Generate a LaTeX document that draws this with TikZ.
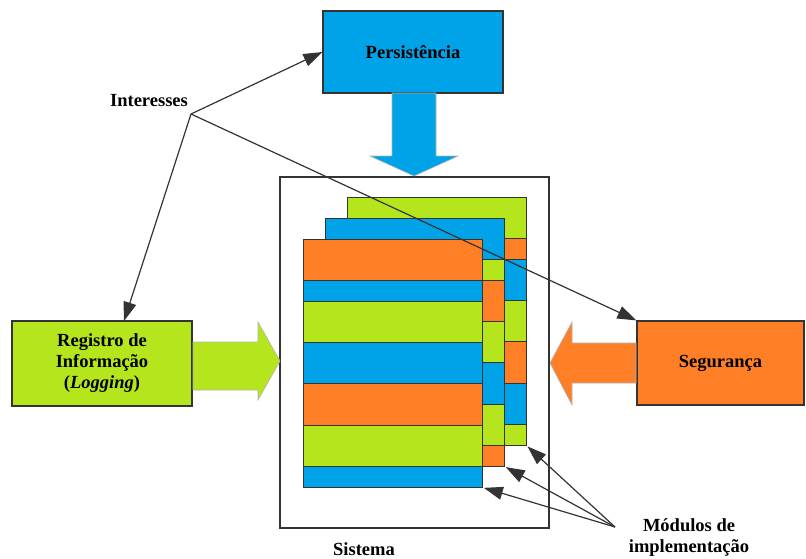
\documentclass[tikz,border=0pt]{standalone}
\usepackage{fontspec}
\setmainfont{Liberation Serif}
\usetikzlibrary{arrows.meta}
\definecolor{cblue}{HTML}{00A2E8}
\definecolor{cgreen}{HTML}{B5E61D}
\definecolor{corange}{HTML}{FF7F27}
\definecolor{cline}{HTML}{333333}
\newcommand\mysheet[3]{%
  \foreach \a/\b/\c in {#3}
    \filldraw[stripe,fill=\c] (#1,{#2+\a*20.667}) rectangle ({#1+179},{#2+\b*20.667});}
\begin{document}
\begin{tikzpicture}[x=1pt,y=-1pt,
  lbl/.style={font=\fontsize{18.5}{21}\selectfont\bfseries, text=black, align=center},
  box/.style={draw=cline, line width=1.2pt, inner sep=0pt, lbl},
  stripe/.style={draw=cline, line width=1pt},
  bigarrow/.style={draw=gray!60, line width=0.6pt},
  conn/.style={draw=cline, line width=1.2pt, -{Triangle[length=19pt,width=13pt]}, color=cline},
  sheet/.style={inner sep=0pt, minimum width=179pt, minimum height=248pt, anchor=north west}]
\useasboundingbox (0,0) rectangle (806,558);

% boxes
\node[box, fill=cblue, minimum width=180pt, minimum height=82pt] (pers) at (413,52) {Persistência};
\node[box, fill=cgreen, minimum width=180pt, minimum height=85pt] (reg) at (102,363.5)
  {Registro de\\Informação\\(\textit{Logging})};
\node[box, fill=corange, minimum width=167pt, minimum height=84pt] (seg) at (720.5,363) {Segurança};
\node[draw=cline, line width=1.5pt, inner sep=0pt, minimum width=269pt, minimum height=351pt] (sys) at (414.5,352.5) {};

% big arrows
\filldraw[bigarrow, fill=cblue] (392,93) -- (392,156) -- (370,156) -- (414,176) -- (458,156) -- (436,156) -- (436,93) -- cycle;
\filldraw[bigarrow, fill=cgreen] (193,342) -- (258,342) -- (258,322) -- (280,361) -- (258,400) -- (258,390) -- (193,390) -- cycle;
\filldraw[bigarrow, fill=corange] (636,343) -- (572,343) -- (572,322) -- (550,363) -- (572,405) -- (572,383) -- (636,383) -- cycle;

% sheets
\node[sheet] (back) at (347,197) {};
\node[sheet] (mid) at (325,218) {};
\node[sheet] (front) at (303,239) {};
\mysheet{347}{197}{0/2/cgreen,2/3/corange,3/5/cblue,5/7/cgreen,7/9/corange,9/11/cblue,11/12/cgreen}
\mysheet{325}{218}{0/2/cblue,2/3/cgreen,3/5/corange,5/7/cgreen,7/9/cblue,9/11/cgreen,11/12/corange}
\mysheet{303}{239}{0/2/corange,2/3/cblue,3/5/cgreen,5/7/cblue,7/9/corange,9/11/cgreen,11/12/cblue}

% labels
\node[lbl] (int) at (149,101) {Interesses};
\node[lbl] (sysl) at (364,549) {Sistema};
\node[lbl] (mods) at (689,538) {Módulos de\\implementação};

\coordinate (io) at (191,114);
\coordinate (mo) at (615,527);
\coordinate (regtop) at (124,321);

% connectors
\draw[conn] (io) -- (pers.west);
\draw[conn] (io) -- (regtop);
\draw[conn] (io) -- (seg.north west);
\draw[conn, shorten >=1.5pt] (mo) -- (back.south east);
\draw[conn, shorten >=1.5pt] (mo) -- (mid.south east);
\draw[conn, shorten >=1.5pt] (mo) -- (front.south east);
\end{tikzpicture}
\end{document}
